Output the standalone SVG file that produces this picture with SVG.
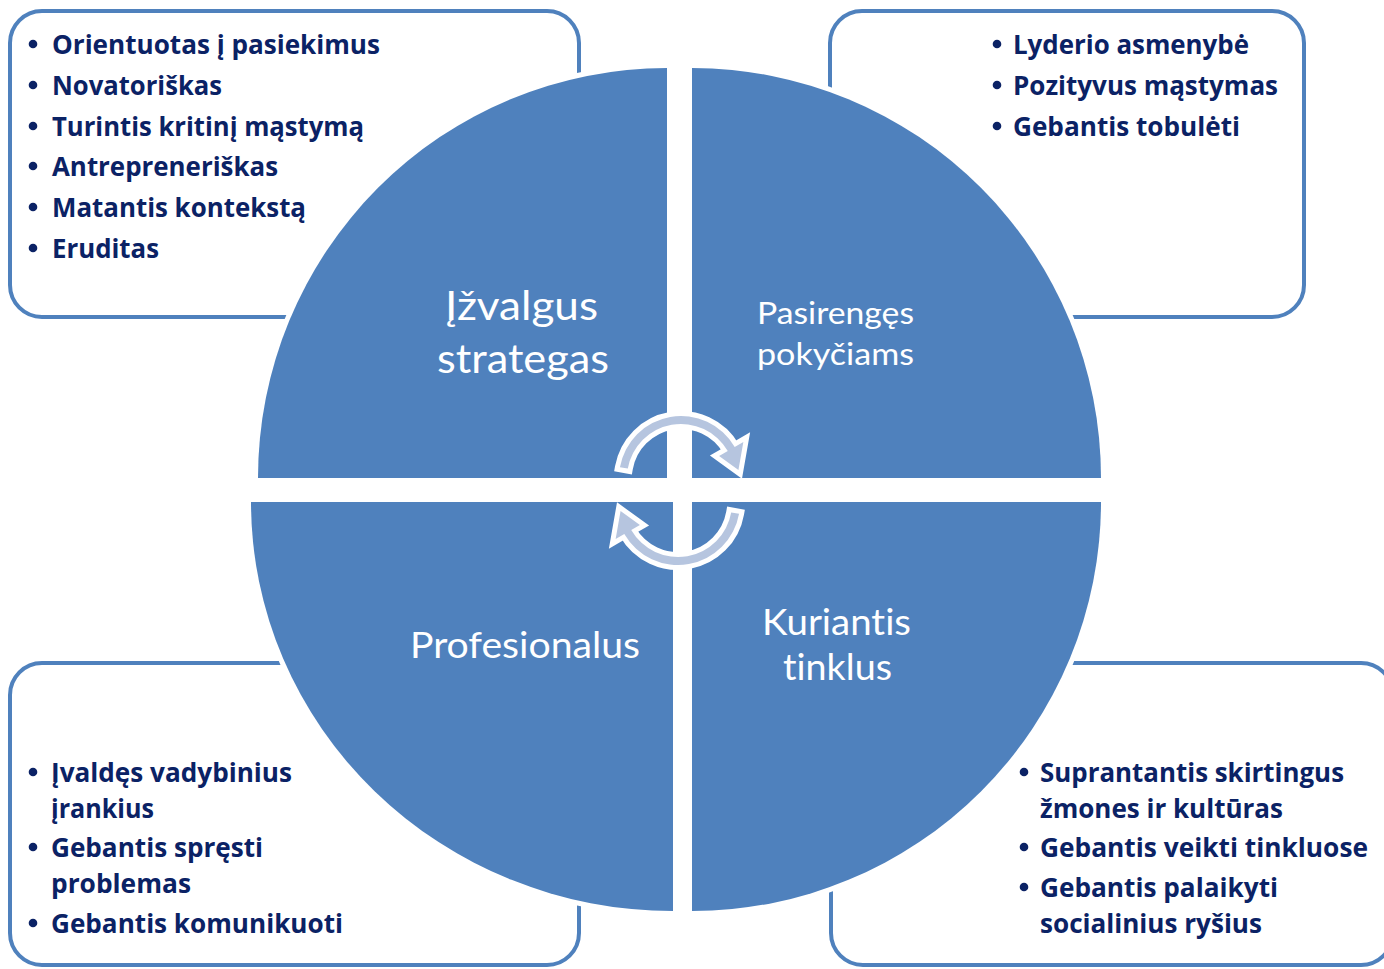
<svg xmlns="http://www.w3.org/2000/svg" width="1384" height="969" viewBox="0 0 1384 969">
<style>
.box{fill:#FFFFFF;stroke:#4F81BD;stroke-width:4}
.quad{fill:#4F81BD;stroke:#FFFFFF;stroke-width:10;paint-order:stroke}
.item{font-family:"Open Sans",Lato,"Noto Sans",sans-serif;font-weight:bold;font-size:27.5px;fill:#0B2265;font-variant-ligatures:none}
.dot{fill:#0B2265}
.lbl{font-family:Lato,"Open Sans","Noto Sans",sans-serif;fill:#FFFFFF;font-variant-ligatures:none}
.arr{fill:#B6C5DF;stroke:#FFFFFF;stroke-width:10;stroke-linejoin:miter;paint-order:stroke}
</style>
<rect width="1384" height="969" fill="#FFFFFF"/>
<g id="box-tl"><rect class="box" x="10" y="11" width="569" height="306" rx="32"/></g>
<g id="box-tr"><rect class="box" x="830" y="11" width="474" height="306" rx="32"/></g>
<g id="box-bl"><rect class="box" x="10" y="663" width="569" height="302" rx="32"/></g>
<g id="box-br"><rect class="box" x="831" y="663" width="562" height="302" rx="32"/></g>

<g id="quad-tl"><path class="quad" d="M667,478 L258,478 A409,410 0 0 1 667,68 Z"/></g>
<g id="quad-tr"><path class="quad" d="M692,478 L692,68 A409,410 0 0 1 1101,478 Z"/></g>
<g id="quad-bl"><path class="quad" d="M673,502 L673,911 A422,409 0 0 1 251,502 Z"/></g>
<g id="quad-br"><path class="quad" d="M692,502 L1101,502 A409,409 0 0 1 692,911 Z"/></g>

<g id="connectors">
<path id="arrow-top" class="arr" d="M619.94,467.24 A62,62 0 0 1 734.69,447 L743.35,442 L738.44,469.93 L719.1,456 L727.77,451 A54,54 0 0 0 627.82,468.62 Z"/>
<path id="arrow-bottom" class="arr" transform="rotate(180 679.5 490.5)" d="M619.94,467.24 A62,62 0 0 1 734.69,447 L743.35,442 L738.44,469.93 L719.1,456 L727.77,451 A54,54 0 0 0 627.82,468.62 Z"/>
</g>

<g id="label-tl" class="lbl">
<text x="445" y="320" font-size="40" textLength="153" lengthAdjust="spacingAndGlyphs">Įžvalgus</text>
<text x="437" y="373" font-size="40" textLength="172" lengthAdjust="spacingAndGlyphs">strategas</text>
</g>
<g id="label-tr" class="lbl">
<text x="757" y="324" font-size="31" textLength="157" lengthAdjust="spacingAndGlyphs">Pasirengęs</text>
<text x="757" y="365" font-size="31" textLength="157" lengthAdjust="spacingAndGlyphs">pokyčiams</text>
</g>
<g id="label-bl" class="lbl">
<text x="410" y="658" font-size="37" textLength="230" lengthAdjust="spacingAndGlyphs">Profesionalus</text>
</g>
<g id="label-br" class="lbl">
<text x="762" y="635" font-size="37" textLength="149" lengthAdjust="spacingAndGlyphs">Kuriantis</text>
<text x="783" y="680" font-size="37" textLength="109" lengthAdjust="spacingAndGlyphs">tinklus</text>
</g>

<g id="list-tl">
<circle class="dot" cx="33" cy="44" r="4.3"/>
<circle class="dot" cx="33" cy="85" r="4.3"/>
<circle class="dot" cx="33" cy="126" r="4.3"/>
<circle class="dot" cx="33" cy="166" r="4.3"/>
<circle class="dot" cx="33" cy="207" r="4.3"/>
<circle class="dot" cx="33" cy="248" r="4.3"/>
<text class="item" x="52" y="54" textLength="328" lengthAdjust="spacingAndGlyphs">Orientuotas į pasiekimus</text>
<text class="item" x="52" y="95" textLength="170" lengthAdjust="spacingAndGlyphs">Novatoriškas</text>
<text class="item" x="52" y="136" textLength="312" lengthAdjust="spacingAndGlyphs">Turintis kritinį mąstymą</text>
<text class="item" x="52" y="176" textLength="226" lengthAdjust="spacingAndGlyphs">Antrepreneriškas</text>
<text class="item" x="52" y="217" textLength="254" lengthAdjust="spacingAndGlyphs">Matantis kontekstą</text>
<text class="item" x="52" y="258" textLength="107" lengthAdjust="spacingAndGlyphs">Eruditas</text>
</g>

<g id="list-tr">
<circle class="dot" cx="997" cy="44" r="4.3"/>
<circle class="dot" cx="997" cy="85" r="4.3"/>
<circle class="dot" cx="997" cy="126" r="4.3"/>
<text class="item" x="1013" y="54" textLength="236" lengthAdjust="spacingAndGlyphs">Lyderio asmenybė</text>
<text class="item" x="1013" y="95" textLength="265" lengthAdjust="spacingAndGlyphs">Pozityvus mąstymas</text>
<text class="item" x="1013" y="136" textLength="227" lengthAdjust="spacingAndGlyphs">Gebantis tobulėti</text>
</g>

<g id="list-bl">
<circle class="dot" cx="33" cy="772" r="4.3"/>
<circle class="dot" cx="33" cy="847" r="4.3"/>
<circle class="dot" cx="33" cy="923" r="4.3"/>
<text class="item" x="51" y="782" textLength="241" lengthAdjust="spacingAndGlyphs">Įvaldęs vadybinius</text>
<text class="item" x="51" y="818" textLength="103" lengthAdjust="spacingAndGlyphs">įrankius</text>
<text class="item" x="51" y="857" textLength="212" lengthAdjust="spacingAndGlyphs">Gebantis spręsti</text>
<text class="item" x="51" y="893" textLength="140" lengthAdjust="spacingAndGlyphs">problemas</text>
<text class="item" x="51" y="933" textLength="292" lengthAdjust="spacingAndGlyphs">Gebantis komunikuoti</text>
</g>

<g id="list-br">
<circle class="dot" cx="1024" cy="772" r="4.3"/>
<circle class="dot" cx="1024" cy="847" r="4.3"/>
<circle class="dot" cx="1024" cy="887" r="4.3"/>
<text class="item" x="1040" y="782" textLength="304" lengthAdjust="spacingAndGlyphs">Suprantantis skirtingus</text>
<text class="item" x="1040" y="818" textLength="243" lengthAdjust="spacingAndGlyphs">žmones ir kultūras</text>
<text class="item" x="1040" y="857" textLength="328" lengthAdjust="spacingAndGlyphs">Gebantis veikti tinkluose</text>
<text class="item" x="1040" y="897" textLength="238" lengthAdjust="spacingAndGlyphs">Gebantis palaikyti</text>
<text class="item" x="1040" y="933" textLength="222" lengthAdjust="spacingAndGlyphs">socialinius ryšius</text>
</g>
</svg>
